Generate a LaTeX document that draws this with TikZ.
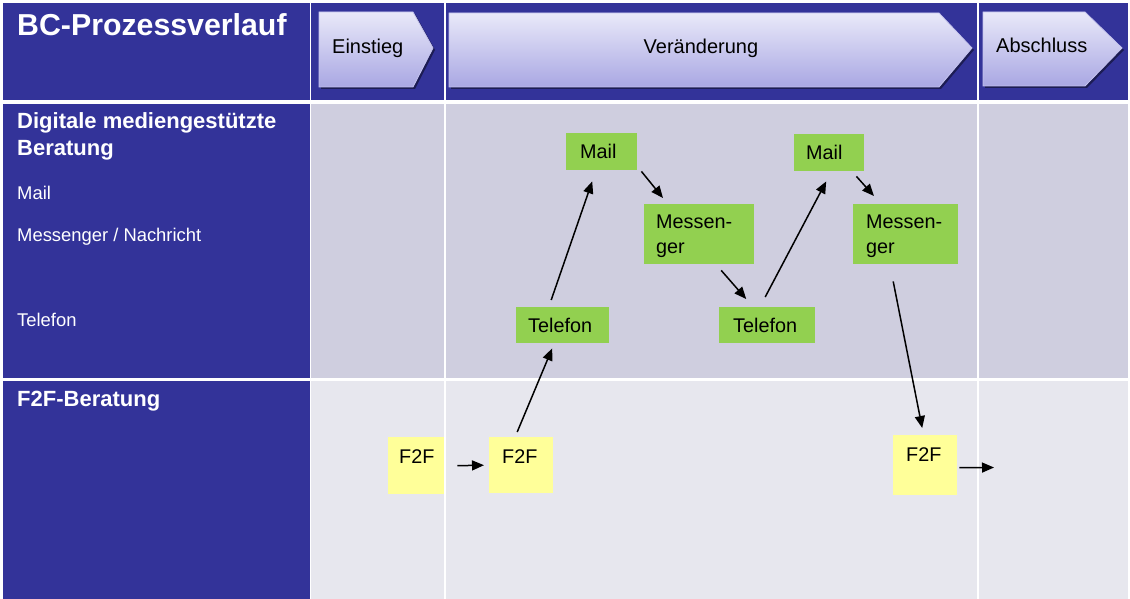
\documentclass[tikz,border=0pt]{standalone}
\usepackage{fontspec}
\setmainfont{Liberation Sans}
\usetikzlibrary{arrows.meta}
\definecolor{navy}{HTML}{333399}
\definecolor{rowA}{HTML}{CFCEDF}
\definecolor{rowB}{HTML}{E7E7EE}
\definecolor{gbox}{HTML}{92D050}
\definecolor{ybox}{HTML}{FFFF99}
\definecolor{chtop}{HTML}{E9E9F9}
\definecolor{chbot}{HTML}{A9A7E3}
\definecolor{chedge}{HTML}{C4C3EE}
\tikzset{
  cellnavy/.style={fill=navy},
  cellA/.style={fill=rowA},
  cellB/.style={fill=rowB},
  chevron/.style={top color=chtop, bottom color=chbot, draw=chedge, line width=0.8pt},
  chshadow/.style={fill=black, opacity=0.45},
  chtext/.style={anchor=base west, inner sep=0pt, font=\fontsize{20}{24}\selectfont},
  wtitle/.style={anchor=base west, inner sep=0pt, text=white, font=\bfseries\fontsize{30.3}{36}\selectfont},
  wbold/.style={anchor=base west, inner sep=0pt, text=white, align=left, font=\bfseries\fontsize{22}{27}\selectfont},
  wlabel/.style={anchor=base west, inner sep=0pt, text=white, font=\fontsize{18.4}{22}\selectfont},
  greenbox/.style={fill=gbox, anchor=north west, inner ysep=0pt, align=left, font=\fontsize{19.8}{25}\selectfont},
  yellowbox/.style={fill=ybox, anchor=north west, inner ysep=0pt, align=left, text height=25.8pt, font=\fontsize{19.8}{25}\selectfont},
  arr/.style={-{Triangle[length=12pt,width=10pt]}, line width=1.5pt, black}
}
\begin{document}
\begin{tikzpicture}[x=1pt,y=-1pt]
\useasboundingbox (0,0) rectangle (1130,599);
\fill[white] (0,0) rectangle (1130,599);
% header row
\fill[cellnavy] (3,3) rectangle (309.5,100.5);
\fill[cellnavy] (311,3) rectangle (443.5,100.5);
\fill[cellnavy] (446,3) rectangle (977,100.5);
\fill[cellnavy] (979,3) rectangle (1128,100.5);
% row 2
\fill[cellnavy] (3,104) rectangle (309.5,378);
\fill[cellA] (311,104) rectangle (443.5,378);
\fill[cellA] (446,104) rectangle (977,378);
\fill[cellA] (979,104) rectangle (1128,378);
% row 3
\fill[cellnavy] (3,381) rectangle (309.5,599);
\fill[cellB] (311,381) rectangle (443.5,599);
\fill[cellB] (446,381) rectangle (977,599);
\fill[cellB] (979,381) rectangle (1128,599);

% chevrons
\fill[chshadow] (321,14) -- (415,14) -- (435,50) -- (415,89) -- (321,89) -- cycle;
\shade[chevron] (319,12) -- (413,12) -- (433,48) -- (413,87) -- (319,87) -- cycle;
\fill[chshadow] (451,15) -- (941,15) -- (974,50) -- (941,89) -- (451,89) -- cycle;
\shade[chevron] (449,13) -- (939,13) -- (972,48) -- (939,87) -- (449,87) -- cycle;
\fill[chshadow] (985,14) -- (1087,14) -- (1124,50) -- (1087,88) -- (985,88) -- cycle;
\shade[chevron] (983,12) -- (1085,12) -- (1122,48) -- (1085,86) -- (983,86) -- cycle;
\node[chtext] (einstieg) at (332,54) {Einstieg};
\node[chtext] (veraend) at (643.5,54) {Veränderung};
\node[chtext] (abschl) at (996,53) {Abschluss};

% left column texts
\node[wtitle] (title) at (17,35.5) {BC-Prozessverlauf};
\node[wbold] (digital) at (17,156) {Digitale mediengestützte\\Beratung};
\node[wlabel] (lmail) at (17,199) {Mail};
\node[wlabel] (lmess) at (17,241.7) {Messenger / Nachricht};
\node[wlabel] (ltel) at (17,326.7) {Telefon};
\node[wbold] (f2fb) at (17,406.5) {F2F-Beratung};

% green boxes
\node[greenbox, inner xsep=14pt, text width=43pt, minimum height=37pt] (mail1) at (566,133) {Mail};
\node[greenbox, inner xsep=12pt, text width=86pt, text height=24pt, text depth=36pt] (mess1) at (644,204) {Messen-\\ger};
\node[greenbox, inner xsep=12pt, text width=69pt, minimum height=36pt] (tel1) at (516,307) {Telefon};
\node[greenbox, inner xsep=14pt, text width=68pt, minimum height=36pt] (tel2) at (719,307) {Telefon};
\node[greenbox, inner xsep=12pt, text width=46pt, minimum height=37pt] (mail2) at (794,134) {Mail};
\node[greenbox, inner xsep=13pt, text width=79pt, text height=24pt, text depth=36pt] (mess2) at (853,204) {Messen-\\ger};

% yellow boxes
\node[yellowbox, inner xsep=11pt, text width=34pt, text depth=31.2pt] (f1) at (388,437) {F2F};
\node[yellowbox, inner xsep=13pt, text width=38pt, text depth=30.2pt] (f2) at (489,437) {F2F};
\node[yellowbox, inner xsep=13pt, text width=38pt, text depth=34.2pt] (f3) at (893,435) {F2F};
\coordinate (out) at (994,467.5);

% connectors
\draw[arr] ([xshift=13pt]f1.east) -- ([xshift=-5pt]f2.west);
\draw[arr] ([xshift=-4pt,yshift=5pt]f2.north) -- ([xshift=-10.5pt,yshift=-5pt]tel1.south);
\draw[arr] ([xshift=-11.5pt,yshift=7pt]tel1.north) -- ([xshift=-9.5pt,yshift=-11pt]mail1.south);
\draw[arr] ([xshift=4pt,yshift=-1pt]mail1.south east) -- ([xshift=19pt,yshift=6pt]mess1.north west);
\draw[arr] ([xshift=22pt,yshift=-6pt]mess1.south) -- ([xshift=-21pt,yshift=8pt]tel2.north);
\draw[arr] ([xshift=-2pt,yshift=10pt]tel2.north) -- ([xshift=-3pt,yshift=-10pt]mail2.south);
\draw[arr] ([xshift=-8pt,yshift=-5pt]mail2.south east) -- ([xshift=21pt,yshift=8pt]mess2.north west);
\draw[arr] ([xshift=-12.5pt,yshift=-17pt]mess2.south) -- ([xshift=-3pt,yshift=7pt]f3.north);
\draw[arr] ([xshift=2pt,yshift=-2.5pt]f3.east) -- (out);
\end{tikzpicture}
\end{document}
